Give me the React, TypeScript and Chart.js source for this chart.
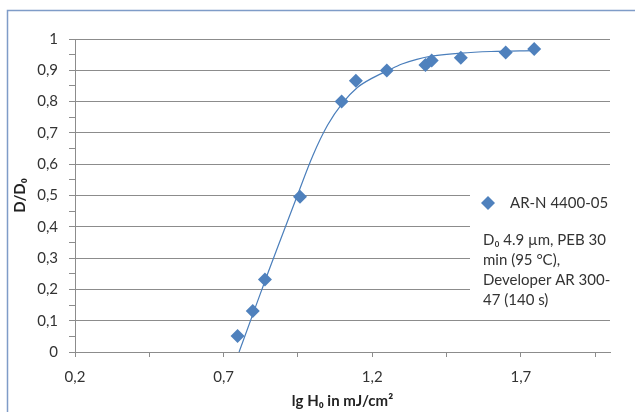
import React, { useEffect, useRef } from 'react';
import { Chart, registerables } from 'chart.js';

Chart.register(...registerables);

// ---- data ----
const seriesName = 'AR-N 4400-05';
const noteLines = ['D\u2080 4.9 \u00b5m, PEB 30', 'min (95 \u00b0C),', 'Developer AR 300-', '47 (140 s)'];
const xAxisTitle = 'lg H\u2080 in mJ/cm\u00b2';
const yAxisTitle = 'D/D\u2080';

const lgH = [0.747, 0.798, 0.839, 0.957, 1.097, 1.145, 1.249, 1.379, 1.4, 1.498, 1.649, 1.745];
const ratio = [0.051, 0.131, 0.232, 0.496, 0.8, 0.867, 0.899, 0.917, 0.931, 0.94, 0.957, 0.968];

const trendX = [0.752, 0.8, 0.85, 0.9, 0.95, 1.0, 1.05, 1.1, 1.15, 1.2, 1.25, 1.3, 1.35, 1.4, 1.5, 1.6, 1.745];
const trendY = [0.0, 0.125, 0.255, 0.38, 0.505, 0.627, 0.725, 0.795, 0.845, 0.875, 0.898, 0.92, 0.935, 0.945, 0.955, 0.96, 0.963];

const xTickValues = [0.2, 0.45, 0.7, 0.95, 1.2, 1.45, 1.7, 1.95];
const xLabelValues = [0.2, 0.7, 1.2, 1.7];

const POINT_COLOR = '#4f81bd';
const LINE_COLOR = '#4a7ebb';
const GRID_COLOR = '#8c8c8c';
const TEXT_COLOR = '#333333';
const FONT_FAMILY = 'Lato, "Liberation Sans", sans-serif';

const fmt = (v: number) => String(Math.round(v * 10) / 10).replace('.', ',');
const isMajorY = (v: number) => Math.round(v * 100) % 10 === 0;

const overlayPlugin = {
  id: 'overlay',
  afterDraw(chart: any) {
    const ctx = chart.ctx as CanvasRenderingContext2D;
    ctx.save();
    // frame
    ctx.strokeStyle = '#7f9cc8';
    ctx.lineWidth = 1.5;
    ctx.beginPath();
    ctx.moveTo(7.5, 412);
    ctx.lineTo(7.5, 10.5);
    ctx.lineTo(635, 10.5);
    ctx.stroke();

    // legend / note box
    ctx.fillStyle = '#ffffff';
    ctx.fillRect(470, 188, 141, 128);

    // legend marker
    const cx = 488, cy = 203, r = 7;
    ctx.fillStyle = POINT_COLOR;
    ctx.beginPath();
    ctx.moveTo(cx - r, cy);
    ctx.lineTo(cx, cy - r);
    ctx.lineTo(cx + r, cy);
    ctx.lineTo(cx, cy + r);
    ctx.closePath();
    ctx.fill();

    ctx.fillStyle = TEXT_COLOR;
    ctx.font = `15px ${FONT_FAMILY}`;
    ctx.textBaseline = 'middle';
    ctx.textAlign = 'left';
    ctx.fillText(seriesName, 510, 203);
    noteLines.forEach((line, i) => {
      ctx.fillText(line, 483, 240 + i * 20);
    });
    ctx.restore();
  },
};

export default function App() {
  const ref = useRef<HTMLCanvasElement | null>(null);

  useEffect(() => {
    if (!ref.current) return;
    const chart = new Chart(ref.current, {
      type: 'scatter',
      data: {
        datasets: [
          {
            label: seriesName,
            data: lgH.map((x, i) => ({ x, y: ratio[i] })),
            pointStyle: 'rectRot',
            pointRadius: 7,
            pointHoverRadius: 7,
            backgroundColor: POINT_COLOR,
            borderColor: POINT_COLOR,
            borderWidth: 0,
            showLine: false,
          },
          {
            label: 'trend',
            data: trendX.map((x, i) => ({ x, y: trendY[i] })),
            showLine: true,
            pointRadius: 0,
            borderColor: LINE_COLOR,
            borderWidth: 1.2,
            cubicInterpolationMode: 'monotone',
            fill: false,
          },
        ],
      },
      options: {
        responsive: false,
        animation: false,
        devicePixelRatio: 1,
        layout: { padding: { top: 39, right: 25, bottom: 0, left: 0 } },
        plugins: {
          legend: { display: false },
          tooltip: { enabled: false },
        },
        scales: {
          x: {
            type: 'linear',
            min: 0.2,
            max: 2.0,
            afterBuildTicks: (scale: any) => {
              scale.ticks = xTickValues.map((v) => ({ value: v }));
            },
            afterFit: (scale: any) => {
              scale.height = 60;
            },
            grid: {
              drawOnChartArea: false,
              drawTicks: true,
              tickLength: 5,
              tickColor: GRID_COLOR,
            },
            border: { display: true, color: GRID_COLOR, width: 1 },
            ticks: {
              autoSkip: false,
              maxRotation: 0,
              padding: 11,
              color: TEXT_COLOR,
              font: { family: FONT_FAMILY, size: 15 },
              callback: (v: any) => (xLabelValues.some((l) => Math.abs(l - Number(v)) < 1e-6) ? fmt(Number(v)) : ''),
            },
            title: {
              display: true,
              text: xAxisTitle,
              color: '#222222',
              font: { family: FONT_FAMILY, size: 15, weight: 'bold' },
              padding: { top: 0, bottom: 2 },
            },
          },
          y: {
            type: 'linear',
            min: 0,
            max: 1,
            afterFit: (scale: any) => {
              scale.width = 75;
            },
            grid: {
              drawTicks: true,
              tickLength: 6,
              color: (c: any) => (c.tick && isMajorY(c.tick.value) ? GRID_COLOR : 'rgba(0,0,0,0)'),
              tickColor: GRID_COLOR,
              lineWidth: 1,
            },
            border: { display: true, color: GRID_COLOR, width: 1 },
            ticks: {
              stepSize: 0.05,
              autoSkip: false,
              padding: 11,
              color: TEXT_COLOR,
              font: { family: FONT_FAMILY, size: 15 },
              callback: (v: any) => (isMajorY(Number(v)) ? fmt(Number(v)) : ''),
            },
            title: {
              display: true,
              text: yAxisTitle,
              color: '#222222',
              font: { family: FONT_FAMILY, size: 15, weight: 'bold' },
              padding: { top: 11, bottom: 0 },
            },
          },
        },
      },
      plugins: [overlayPlugin],
    });
    return () => chart.destroy();
  }, []);

  return (
    <div style={{ position: 'fixed', left: 0, top: 0, width: 635, height: 412, background: '#fff' }}>
      <canvas ref={ref} width={635} height={412} />
    </div>
  );
}
